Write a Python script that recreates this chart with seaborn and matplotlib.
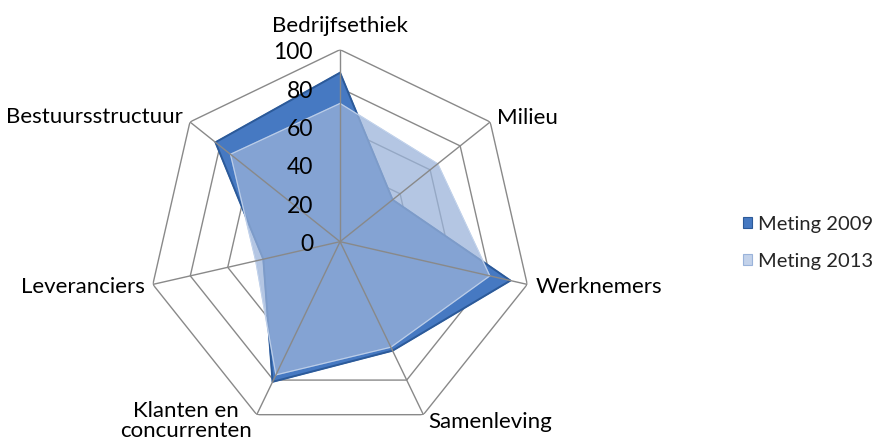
import numpy as np
import matplotlib
matplotlib.use("Agg")
import matplotlib.pyplot as plt
import matplotlib.transforms as mtransforms
from matplotlib.patches import Patch
import seaborn as sns

categories = ["Bedrijfsethiek", "Milieu", "Werknemers", "Samenleving",
              "Klanten en\nconcurrenten", "Leveranciers", "Bestuursstructuur"]
meting_2009 = [88, 35, 91, 63, 81, 41, 83]
meting_2013 = [72, 65, 80, 61, 77, 45, 73]
series_labels = ["Meting 2009", "Meting 2013"]
r_ticks = [0, 20, 40, 60, 80, 100]

sns.set_style("white")
plt.rcParams["font.family"] = ["Lato", "DejaVu Sans"]

c2009 = "#4679c2"
c2013 = "#9ab3da"
grid_c = "#898989"

fig = plt.figure(figsize=(8.77, 4.45), dpi=100)
ax = fig.add_axes([0.1688, 0.0254, 0.4379, 0.863], projection="polar")
ax.set_theta_offset(np.pi / 2)
ax.set_theta_direction(-1)
ax.set_ylim(0, 100)
ax.grid(False)
ax.spines["polar"].set_visible(False)
ax.set_xticks([])
ax.set_yticks([])
ax.patch.set_alpha(0)

n = len(categories)
theta = np.linspace(0, 2 * np.pi, n, endpoint=False)
theta_c = np.append(theta, theta[0])

# heptagon grid
for r in r_ticks[1:]:
    ax.plot(theta_c, [r] * (n + 1), color=grid_c, lw=1.0, zorder=0)

v09 = np.append(meting_2009, meting_2009[0])
v13 = np.append(meting_2013, meting_2013[0])
ax.fill(theta_c, v09, color=c2009, zorder=1, label=series_labels[0])
ax.plot(theta_c, v09, color="#2c5a99", lw=1.4, zorder=1.1)
ax.fill(theta_c, v13, color=c2013, alpha=0.74, zorder=2, label=series_labels[1])
ax.plot(theta_c, v13, color="#c9d8ee", lw=0.8, alpha=0.8, zorder=2.1)

# spokes
for t in theta:
    ax.plot([t, t], [0, 100], color=grid_c, lw=1.0, zorder=3)

# value tick labels
for r in r_ticks:
    tr = mtransforms.offset_copy(ax.transData, fig=fig, x=-27, y=-3, units="dots")
    ax.text(0, r, str(r), transform=tr, ha="right", va="center",
            fontsize=16.5, color="black", zorder=4)

# category labels
offsets = [(0, 24, "center", "center"),
           (7, 4, "left", "center"),
           (8, -3, "left", "center"),
           (5, -7, "left", "center"),
           (-5, -6, "right", "center"),
           (-8, -3, "right", "center"),
           (-7, 5, "right", "center")]
for t, lab, (dx, dy, ha, va) in zip(theta, categories, offsets):
    tr = mtransforms.offset_copy(ax.transData, fig=fig, x=dx, y=dy, units="dots")
    ax.text(t, 100, lab, transform=tr, ha=ha, va=va, fontsize=16,
            multialignment="center", color="black", linespacing=1.0)

handles = [Patch(facecolor=c2009, edgecolor="#2c5a99", lw=0.8),
           Patch(facecolor="#c3d2ea", edgecolor="#9ab3da", lw=0.8)]
fig.legend(handles, series_labels, loc="center left",
           bbox_to_anchor=(743 / 877, 1 - 243 / 445), frameon=False,
           fontsize=14.5, handlelength=0.45, handleheight=0.45,
           handletextpad=0.3, labelspacing=1.0, borderpad=0, borderaxespad=0)

fig.savefig("out.png", dpi=100)
